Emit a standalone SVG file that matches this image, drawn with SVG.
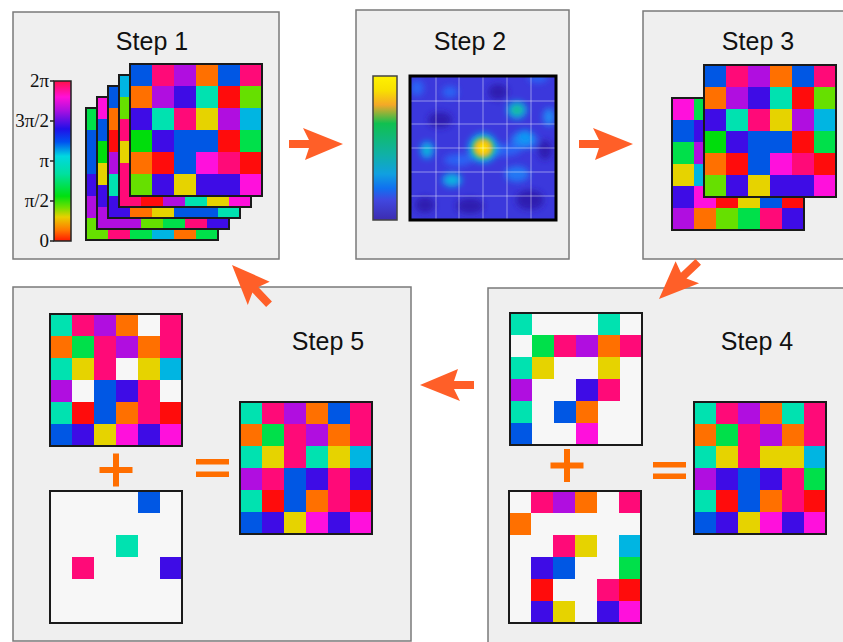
<svg xmlns="http://www.w3.org/2000/svg" xmlns:xlink="http://www.w3.org/1999/xlink" width="843" height="642" viewBox="0 0 843 642">
<style>
.panel{fill:#efefef;stroke:#7a7a7a;stroke-width:1.5}
.title{font-family:"Liberation Sans",Arial,sans-serif;font-size:25px;fill:#111;text-anchor:middle}
.lab{font-family:"Liberation Serif","Times New Roman",serif;font-size:19px;fill:#111;text-anchor:end}
.frame{fill:none;stroke:#1a1a1a;stroke-width:2}
.bg{fill:#f7f7f7}
.B{fill:#0057e4}.C{fill:#ff0a78}.P{fill:#b00ee0}.O{fill:#ff7000}.R{fill:#ff0c0c}.L{fill:#66e000}
.I{fill:#3e0ce6}.M{fill:#00e2b0}.Y{fill:#e6d300}.Cy{fill:#00b5e2}.G{fill:#00dd0c}.S{fill:#00e04a}.Mg{fill:#ff10dc}
.arrow{fill:#ff5f28}
.op{fill:#ff6e00}
</style>
<defs>
<path id="arr" d="M0,0 L-40,-16 L-34,-4 L-54,-4 L-54,4 L-34,4 L-38,16 Z"/>
<linearGradient id="hue" x1="0" y1="0" x2="0" y2="1">
<stop offset="0" stop-color="#ff1048"/><stop offset="0.1" stop-color="#ff10d8"/><stop offset="0.18" stop-color="#b010e0"/>
<stop offset="0.3" stop-color="#2010e8"/><stop offset="0.38" stop-color="#0050f0"/><stop offset="0.47" stop-color="#00d8e0"/>
<stop offset="0.58" stop-color="#00e0a0"/><stop offset="0.72" stop-color="#00e010"/><stop offset="0.79" stop-color="#70e000"/>
<stop offset="0.85" stop-color="#e8d000"/><stop offset="0.93" stop-color="#ff7a00"/><stop offset="1" stop-color="#ff1800"/>
</linearGradient>
<linearGradient id="par" x1="0" y1="0" x2="0" y2="1">
<stop offset="0" stop-color="#fff200"/><stop offset="0.1" stop-color="#f8e000"/><stop offset="0.2" stop-color="#f4a828"/>
<stop offset="0.33" stop-color="#10c050"/><stop offset="0.55" stop-color="#10b0a8"/><stop offset="0.68" stop-color="#10a0e0"/>
<stop offset="0.78" stop-color="#1070f0"/><stop offset="0.86" stop-color="#4048e0"/><stop offset="1" stop-color="#3c2cb0"/>
</linearGradient>
<clipPath id="hmclip"><rect x="410" y="76" width="146" height="144"/></clipPath>
<filter id="blur" x="-30%" y="-30%" width="160%" height="160%"><feGaussianBlur stdDeviation="3"/></filter>
<filter id="blur2" x="-50%" y="-50%" width="200%" height="200%"><feGaussianBlur stdDeviation="2"/></filter>
<g id="gridA">
<rect class="B" x="0" y="0" width="22" height="22"/><rect class="C" x="22" y="0" width="22" height="22"/><rect class="P" x="44" y="0" width="22" height="22"/><rect class="O" x="66" y="0" width="22" height="22"/><rect class="B" x="88" y="0" width="22" height="22"/><rect class="C" x="110" y="0" width="22" height="22"/>
<rect class="O" x="0" y="22" width="22" height="22"/><rect class="P" x="22" y="22" width="22" height="22"/><rect class="I" x="44" y="22" width="22" height="22"/><rect class="M" x="66" y="22" width="22" height="22"/><rect class="R" x="88" y="22" width="22" height="22"/><rect class="L" x="110" y="22" width="22" height="22"/>
<rect class="I" x="0" y="44" width="22" height="22"/><rect class="M" x="22" y="44" width="22" height="22"/><rect class="C" x="44" y="44" width="22" height="22"/><rect class="Y" x="66" y="44" width="22" height="22"/><rect class="P" x="88" y="44" width="22" height="22"/><rect class="Cy" x="110" y="44" width="22" height="22"/>
<rect class="G" x="0" y="66" width="22" height="22"/><rect class="I" x="22" y="66" width="22" height="22"/><rect class="B" x="44" y="66" width="22" height="22"/><rect class="B" x="66" y="66" width="22" height="22"/><rect class="R" x="88" y="66" width="22" height="22"/><rect class="S" x="110" y="66" width="22" height="22"/>
<rect class="O" x="0" y="88" width="22" height="22"/><rect class="R" x="22" y="88" width="22" height="22"/><rect class="B" x="44" y="88" width="22" height="22"/><rect class="Mg" x="66" y="88" width="22" height="22"/><rect class="C" x="88" y="88" width="22" height="22"/><rect class="R" x="110" y="88" width="22" height="22"/>
<rect class="L" x="0" y="110" width="22" height="22"/><rect class="I" x="22" y="110" width="22" height="22"/><rect class="Y" x="44" y="110" width="22" height="22"/><rect class="I" x="66" y="110" width="22" height="22"/><rect class="I" x="88" y="110" width="22" height="22"/><rect class="Mg" x="110" y="110" width="22" height="22"/>
<rect class="frame" x="0" y="0" width="132" height="132"/>
</g>
<g id="gridFull">
<rect class="M" x="0" y="0" width="22" height="22"/><rect class="C" x="22" y="0" width="22" height="22"/><rect class="P" x="44" y="0" width="22" height="22"/><rect class="O" x="66" y="0" width="22" height="22"/><rect class="M" x="88" y="0" width="22" height="22"/><rect class="C" x="110" y="0" width="22" height="22"/>
<rect class="O" x="0" y="22" width="22" height="22"/><rect class="S" x="22" y="22" width="22" height="22"/><rect class="C" x="44" y="22" width="22" height="22"/><rect class="P" x="66" y="22" width="22" height="22"/><rect class="O" x="88" y="22" width="22" height="22"/><rect class="C" x="110" y="22" width="22" height="22"/>
<rect class="M" x="0" y="44" width="22" height="22"/><rect class="Y" x="22" y="44" width="22" height="22"/><rect class="C" x="44" y="44" width="22" height="22"/><rect class="Y" x="66" y="44" width="22" height="22"/><rect class="Y" x="88" y="44" width="22" height="22"/><rect class="Cy" x="110" y="44" width="22" height="22"/>
<rect class="P" x="0" y="66" width="22" height="22"/><rect class="I" x="22" y="66" width="22" height="22"/><rect class="B" x="44" y="66" width="22" height="22"/><rect class="I" x="66" y="66" width="22" height="22"/><rect class="C" x="88" y="66" width="22" height="22"/><rect class="S" x="110" y="66" width="22" height="22"/>
<rect class="M" x="0" y="88" width="22" height="22"/><rect class="R" x="22" y="88" width="22" height="22"/><rect class="B" x="44" y="88" width="22" height="22"/><rect class="O" x="66" y="88" width="22" height="22"/><rect class="C" x="88" y="88" width="22" height="22"/><rect class="R" x="110" y="88" width="22" height="22"/>
<rect class="B" x="0" y="110" width="22" height="22"/><rect class="I" x="22" y="110" width="22" height="22"/><rect class="Y" x="44" y="110" width="22" height="22"/><rect class="Mg" x="66" y="110" width="22" height="22"/><rect class="I" x="88" y="110" width="22" height="22"/><rect class="Mg" x="110" y="110" width="22" height="22"/>
</g>
</defs>

<rect width="843" height="642" fill="#ffffff"/>

<g id="step1">
<rect class="panel" x="13" y="12" width="266" height="247"/>
<text class="title" x="152" y="50">Step 1</text>
<rect x="54" y="81" width="17" height="160" fill="url(#hue)" stroke="#222" stroke-width="1.5"/>
<g stroke="#222" stroke-width="1.5"><line x1="50" y1="81" x2="54" y2="81"/><line x1="50" y1="121" x2="54" y2="121"/><line x1="50" y1="161" x2="54" y2="161"/><line x1="50" y1="201" x2="54" y2="201"/><line x1="50" y1="241" x2="54" y2="241"/></g>
<text class="lab" x="49" y="87">2π</text>
<text class="lab" x="49" y="127">3π/2</text>
<text class="lab" x="49" y="167">π</text>
<text class="lab" x="49" y="207">π/2</text>
<text class="lab" x="49" y="247">0</text>
<g transform="translate(86,108)">
<rect class="B" width="132" height="132"/>
<rect class="S" x="0" y="0" width="22" height="22"/><rect class="B" x="0" y="22" width="22" height="22"/><rect class="B" x="0" y="44" width="22" height="22"/><rect class="I" x="0" y="66" width="22" height="22"/><rect class="P" x="0" y="88" width="22" height="22"/><rect class="P" x="0" y="110" width="22" height="22"/>
<rect class="L" x="0" y="110" width="22" height="22"/><rect class="C" x="22" y="110" width="22" height="22"/><rect class="S" x="44" y="110" width="22" height="22"/><rect class="Cy" x="66" y="110" width="22" height="22"/><rect class="O" x="88" y="110" width="22" height="22"/><rect class="S" x="110" y="110" width="22" height="22"/>
<rect class="frame" width="132" height="132"/>
</g>
<g transform="translate(97,97)">
<rect class="B" width="132" height="132"/>
<rect class="Mg" x="0" y="0" width="22" height="22"/><rect class="B" x="0" y="22" width="22" height="22"/><rect class="G" x="0" y="44" width="22" height="22"/><rect class="Y" x="0" y="66" width="22" height="22"/><rect class="I" x="0" y="88" width="22" height="22"/><rect class="P" x="0" y="110" width="22" height="22"/>
<rect class="P" x="22" y="110" width="22" height="22"/><rect class="L" x="44" y="110" width="22" height="22"/><rect class="S" x="66" y="110" width="22" height="22"/><rect class="C" x="88" y="110" width="22" height="22"/><rect class="I" x="110" y="110" width="22" height="22"/>
<rect class="frame" width="132" height="132"/>
</g>
<g transform="translate(108,86)">
<rect class="B" width="132" height="132"/>
<rect class="B" x="0" y="0" width="22" height="22"/><rect class="O" x="0" y="22" width="22" height="22"/><rect class="R" x="0" y="44" width="22" height="22"/><rect class="P" x="0" y="66" width="22" height="22"/><rect class="M" x="0" y="88" width="22" height="22"/><rect class="I" x="0" y="110" width="22" height="22"/>
<rect class="O" x="22" y="110" width="22" height="22"/><rect class="Y" x="44" y="110" width="22" height="22"/><rect class="B" x="66" y="110" width="22" height="22"/><rect class="B" x="88" y="110" width="22" height="22"/><rect class="M" x="110" y="110" width="22" height="22"/>
<rect class="frame" width="132" height="132"/>
</g>
<g transform="translate(119,75)">
<rect class="B" width="132" height="132"/>
<rect class="Cy" x="0" y="0" width="22" height="22"/><rect class="L" x="0" y="22" width="22" height="22"/><rect class="C" x="0" y="44" width="22" height="22"/><rect class="Y" x="0" y="66" width="22" height="22"/><rect class="C" x="0" y="88" width="22" height="22"/><rect class="C" x="0" y="110" width="22" height="22"/>
<rect class="R" x="22" y="110" width="22" height="22"/><rect class="P" x="44" y="110" width="22" height="22"/><rect class="M" x="66" y="110" width="22" height="22"/><rect class="Y" x="88" y="110" width="22" height="22"/><rect class="Mg" x="110" y="110" width="22" height="22"/>
<rect class="frame" width="132" height="132"/>
</g>
<use xlink:href="#gridA" href="#gridA" x="130" y="64"/>
</g>

<g id="step2">
<rect class="panel" x="356" y="10" width="213" height="249"/>
<text class="title" x="470" y="50">Step 2</text>
<rect x="373" y="76" width="24" height="144" fill="url(#par)" stroke="#444" stroke-width="1.5"/>
<g clip-path="url(#hmclip)">
<rect x="410" y="76" width="146" height="144" fill="#3b38dc"/>
<g filter="url(#blur)">
<ellipse cx="440" cy="120" rx="12" ry="8" fill="#2e1eb0"/>
<ellipse cx="470" cy="206" rx="14" ry="8" fill="#2e1eb0"/>
<ellipse cx="530" cy="200" rx="14" ry="10" fill="#2e1eb0"/>
<ellipse cx="425" cy="205" rx="10" ry="8" fill="#2e1eb0"/>
<ellipse cx="498" cy="92" rx="10" ry="8" fill="#2e1eb0"/>
<ellipse cx="545" cy="150" rx="7" ry="10" fill="#2e1eb0"/>
<ellipse cx="417" cy="88" rx="7" ry="8" fill="#2a64f4"/>
<ellipse cx="450" cy="92" rx="8" ry="6" fill="#2a64f4"/>
<ellipse cx="538" cy="78" rx="10" ry="5" fill="#2a64f4"/>
<ellipse cx="549" cy="117" rx="6" ry="9" fill="#2288f4"/>
<ellipse cx="524" cy="140" rx="13" ry="9" fill="#2280f4"/>
<ellipse cx="517" cy="174" rx="12" ry="8" fill="#2278f4"/>
<ellipse cx="458" cy="160" rx="14" ry="6" fill="#2a64f4"/>
<ellipse cx="505" cy="150" rx="16" ry="6" fill="#2a64f4"/>
<ellipse cx="517" cy="110" rx="10" ry="9" fill="#10a8e8"/>
<ellipse cx="427" cy="150" rx="7" ry="9" fill="#1098f0"/>
<ellipse cx="452" cy="180" rx="10" ry="7" fill="#10a4ec"/>
<ellipse cx="525" cy="137" rx="7" ry="7" fill="#1098f4"/>
<circle cx="483" cy="148" r="15" fill="#10a8e8"/>
<ellipse cx="517" cy="110" rx="6" ry="5" fill="#18c088"/>
<ellipse cx="427" cy="150" rx="4" ry="5" fill="#10b8d0"/>
<ellipse cx="452" cy="180" rx="5" ry="4" fill="#10b8d8"/>
</g>
<g filter="url(#blur2)">
<circle cx="483" cy="148" r="11" fill="#40c060"/>
<circle cx="483" cy="148" r="8.5" fill="#f0b400"/>
<circle cx="483" cy="148" r="5" fill="#ffe000"/>
</g>
<g stroke="#ffffff" stroke-opacity="0.45" stroke-width="1">
<line x1="436" y1="76" x2="436" y2="220"/><line x1="459" y1="76" x2="459" y2="220"/><line x1="483" y1="76" x2="483" y2="220"/><line x1="507" y1="76" x2="507" y2="220"/><line x1="531" y1="76" x2="531" y2="220"/>
<line x1="410" y1="101" x2="556" y2="101"/><line x1="410" y1="124" x2="556" y2="124"/><line x1="410" y1="148" x2="556" y2="148"/><line x1="410" y1="172" x2="556" y2="172"/><line x1="410" y1="196" x2="556" y2="196"/>
</g>
</g>
<rect x="410" y="76" width="146" height="144" fill="none" stroke="#000" stroke-width="3"/>
</g>

<g id="step3">
<rect class="panel" x="643" y="11" width="210" height="248"/>
<text class="title" x="758" y="50">Step 3</text>
<g transform="translate(672,98)">
<rect class="B" width="132" height="132"/>
<rect class="Mg" x="0" y="0" width="22" height="22"/><rect class="B" x="0" y="22" width="22" height="22"/><rect class="S" x="0" y="44" width="22" height="22"/><rect class="Y" x="0" y="66" width="22" height="22"/><rect class="I" x="0" y="88" width="22" height="22"/><rect class="P" x="0" y="110" width="22" height="22"/>
<rect class="S" x="22" y="0" width="22" height="22"/><rect class="I" x="22" y="22" width="22" height="22"/><rect class="P" x="22" y="44" width="22" height="22"/><rect class="Cy" x="22" y="66" width="22" height="22"/><rect class="Mg" x="22" y="88" width="22" height="22"/><rect class="O" x="22" y="110" width="22" height="22"/>
<rect class="R" x="44" y="88" width="22" height="22"/><rect class="Y" x="66" y="88" width="22" height="22"/><rect class="B" x="88" y="88" width="22" height="22"/><rect class="R" x="110" y="88" width="22" height="22"/>
<rect class="L" x="44" y="110" width="22" height="22"/><rect class="S" x="66" y="110" width="22" height="22"/><rect class="C" x="88" y="110" width="22" height="22"/><rect class="I" x="110" y="110" width="22" height="22"/>
<rect class="frame" width="132" height="132"/>
</g>
<use xlink:href="#gridA" href="#gridA" x="704" y="65"/>
</g>

<g id="step4">
<rect class="panel" x="488" y="288" width="370" height="370"/>
<text class="title" x="757" y="350">Step 4</text>
<g transform="translate(510,313)">
<rect class="bg" width="132" height="132"/>
<rect class="M" x="0" y="0" width="22" height="22"/><rect class="M" x="88" y="0" width="22" height="22"/>
<rect class="S" x="22" y="22" width="22" height="22"/><rect class="C" x="44" y="22" width="22" height="22"/><rect class="P" x="66" y="22" width="22" height="22"/><rect class="O" x="88" y="22" width="22" height="22"/><rect class="C" x="110" y="22" width="22" height="22"/>
<rect class="M" x="0" y="44" width="22" height="22"/><rect class="Y" x="22" y="44" width="22" height="22"/><rect class="Y" x="88" y="44" width="22" height="22"/>
<rect class="P" x="0" y="66" width="22" height="22"/><rect class="I" x="66" y="66" width="22" height="22"/><rect class="C" x="88" y="66" width="22" height="22"/>
<rect class="M" x="0" y="88" width="22" height="22"/><rect class="B" x="44" y="88" width="22" height="22"/><rect class="O" x="66" y="88" width="22" height="22"/>
<rect class="B" x="0" y="110" width="22" height="22"/><rect class="Mg" x="66" y="110" width="22" height="22"/>
<rect class="frame" width="132" height="132"/>
</g>
<g transform="translate(509,491)">
<rect class="bg" width="132" height="132"/>
<rect class="C" x="22" y="0" width="22" height="22"/><rect class="P" x="44" y="0" width="22" height="22"/><rect class="O" x="66" y="0" width="22" height="22"/><rect class="C" x="110" y="0" width="22" height="22"/>
<rect class="O" x="0" y="22" width="22" height="22"/>
<rect class="C" x="44" y="44" width="22" height="22"/><rect class="Y" x="66" y="44" width="22" height="22"/><rect class="Cy" x="110" y="44" width="22" height="22"/>
<rect class="I" x="22" y="66" width="22" height="22"/><rect class="B" x="44" y="66" width="22" height="22"/><rect class="S" x="110" y="66" width="22" height="22"/>
<rect class="R" x="22" y="88" width="22" height="22"/><rect class="C" x="88" y="88" width="22" height="22"/><rect class="R" x="110" y="88" width="22" height="22"/>
<rect class="I" x="22" y="110" width="22" height="22"/><rect class="Y" x="44" y="110" width="22" height="22"/><rect class="I" x="88" y="110" width="22" height="22"/><rect class="Mg" x="110" y="110" width="22" height="22"/>
<rect class="frame" width="132" height="132"/>
</g>
<g transform="translate(694,402)">
<use xlink:href="#gridFull" href="#gridFull"/>
<rect class="frame" width="132" height="132"/>
</g>
<path class="op" d="M564,449h6v13.5h13.5v6h-13.5v13.5h-6v-13.5h-13.5v-6h13.5z"/>
<rect class="op" x="653" y="462" width="33" height="5.5"/>
<rect class="op" x="653" y="473.5" width="33" height="5.5"/>
</g>

<g id="step5">
<rect class="panel" x="13" y="287" width="398" height="354"/>
<text class="title" x="328" y="350">Step 5</text>
<g transform="translate(50,314)">
<rect class="bg" width="132" height="132"/>
<rect class="M" x="0" y="0" width="22" height="22"/><rect class="C" x="22" y="0" width="22" height="22"/><rect class="P" x="44" y="0" width="22" height="22"/><rect class="O" x="66" y="0" width="22" height="22"/><rect class="C" x="110" y="0" width="22" height="22"/>
<rect class="O" x="0" y="22" width="22" height="22"/><rect class="S" x="22" y="22" width="22" height="22"/><rect class="C" x="44" y="22" width="22" height="22"/><rect class="P" x="66" y="22" width="22" height="22"/><rect class="O" x="88" y="22" width="22" height="22"/><rect class="C" x="110" y="22" width="22" height="22"/>
<rect class="M" x="0" y="44" width="22" height="22"/><rect class="Y" x="22" y="44" width="22" height="22"/><rect class="C" x="44" y="44" width="22" height="22"/><rect class="Y" x="88" y="44" width="22" height="22"/><rect class="Cy" x="110" y="44" width="22" height="22"/>
<rect class="P" x="0" y="66" width="22" height="22"/><rect class="B" x="44" y="66" width="22" height="22"/><rect class="I" x="66" y="66" width="22" height="22"/><rect class="C" x="88" y="66" width="22" height="22"/>
<rect class="M" x="0" y="88" width="22" height="22"/><rect class="R" x="22" y="88" width="22" height="22"/><rect class="B" x="44" y="88" width="22" height="22"/><rect class="O" x="66" y="88" width="22" height="22"/><rect class="C" x="88" y="88" width="22" height="22"/><rect class="R" x="110" y="88" width="22" height="22"/>
<rect class="B" x="0" y="110" width="22" height="22"/><rect class="I" x="22" y="110" width="22" height="22"/><rect class="Y" x="44" y="110" width="22" height="22"/><rect class="Mg" x="66" y="110" width="22" height="22"/><rect class="I" x="88" y="110" width="22" height="22"/><rect class="Mg" x="110" y="110" width="22" height="22"/>
<rect class="frame" width="132" height="132"/>
</g>
<g transform="translate(50,491)">
<rect class="bg" width="132" height="132"/>
<rect class="B" x="88" y="0" width="22" height="22"/>
<rect class="M" x="66" y="44" width="22" height="22"/>
<rect class="C" x="22" y="66" width="22" height="22"/>
<rect class="I" x="110" y="66" width="22" height="22"/>
<rect class="frame" width="132" height="132"/>
</g>
<g transform="translate(240,402)">
<use xlink:href="#gridFull" href="#gridFull"/>
<rect class="B" x="88" y="0" width="22" height="22"/>
<rect class="M" x="66" y="44" width="22" height="22"/>
<rect class="C" x="22" y="66" width="22" height="22"/>
<rect class="I" x="110" y="66" width="22" height="22"/>
<rect class="frame" width="132" height="132"/>
</g>
<path class="op" d="M113,453.5h6v13.5h13.5v6h-13.5v13.5h-6v-13.5h-13.5v-6h13.5z"/>
<rect class="op" x="196" y="459" width="33" height="5.5"/>
<rect class="op" x="196" y="471.5" width="33" height="5.5"/>
</g>

<g id="connectors" class="arrow">
<use xlink:href="#arr" href="#arr" transform="translate(343,144)"/>
<use xlink:href="#arr" href="#arr" transform="translate(633,144)"/>
<use xlink:href="#arr" href="#arr" transform="translate(659,299) rotate(136.6)"/>
<use xlink:href="#arr" href="#arr" transform="translate(420,385) rotate(180)"/>
<use xlink:href="#arr" href="#arr" transform="translate(232,265) rotate(226.7)"/>
</g>
</svg>
